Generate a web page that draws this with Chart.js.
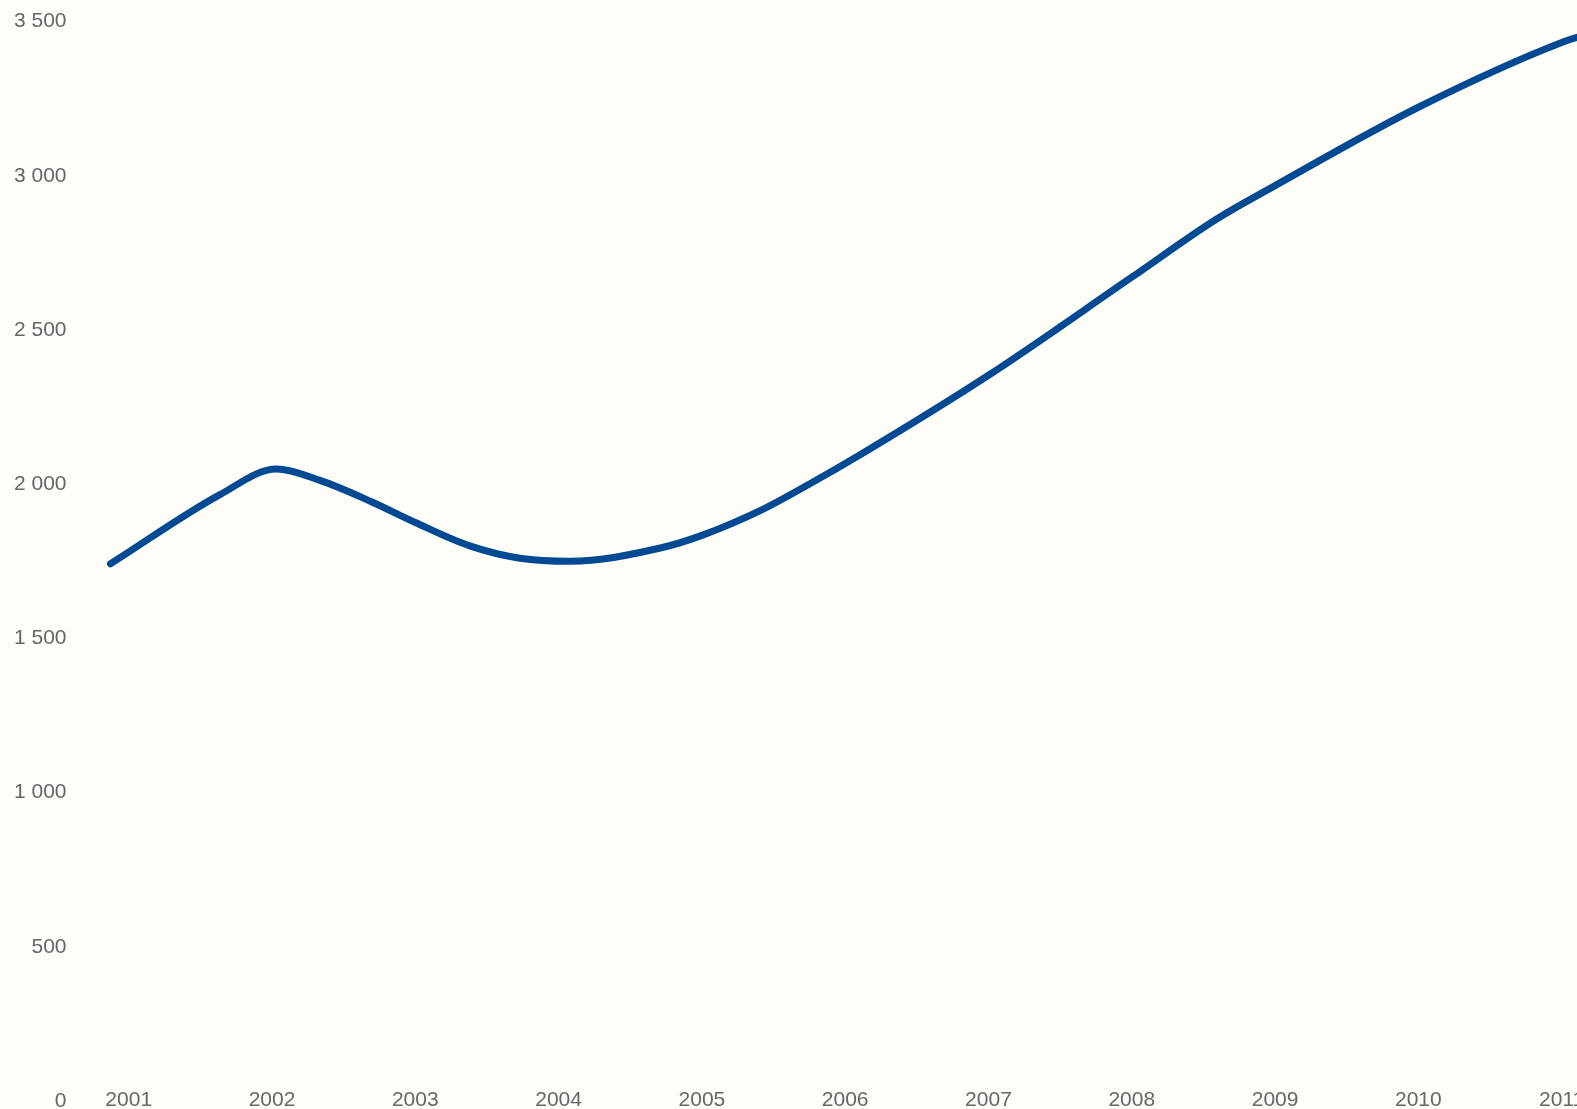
<!DOCTYPE html>
<html>
<head>
<meta charset="utf-8">
<script src="https://cdn.jsdelivr.net/npm/chart.js@4.4.1/dist/chart.umd.min.js"></script>
<style>
    html, body {
        margin: 0;
        padding: 0;
        background: #fffdf8;
        overflow: hidden;
    }
    .chart-wrap {
        position: absolute;
        left: 0;
        top: 0;
        width: 1577px;
        height: 1109px;
    }
</style>
</head>
<body>
<div class="chart-wrap">
    <canvas id="lineChart"></canvas>
</div>
<script>
// ===== DATA =====
const years = [
    2000.873, 2001.64, 2002.03, 2002.33, 2002.69, 2003, 2003.38, 2003.73,
    2004.08, 2004.71, 2005, 2005.41, 2005.76, 2006.11, 2007, 2008, 2008.59,
    2009, 2010, 2011, 2011.2,
];
const values = [
    1742, 1967, 2049, 2013, 1944, 1876, 1800, 1760,
    1750, 1793, 1834, 1915, 2003, 2097, 2353, 2671, 2859,
    2968, 3222, 3432, 3462,
];
const xTicks = [2001, 2002, 2003, 2004, 2005, 2006, 2007, 2008, 2009, 2010, 2011];
const yTicks = [0, 500, 1000, 1500, 2000, 2500, 3000, 3500];

const xMin = 2000.873;
const xMax = 2011.107;
// plot area stops just above 0 so the year labels can sit level with "0"
const yMin = 36;
const yMax = 3500;

function spaced(v) {
    return String(v).replace(/\B(?=(\d{3})+(?!\d))/g, " ");
}

// ===== CHART =====
function initChart() {
    Chart.defaults.font.family = "'Liberation Sans', Arial, sans-serif";
    Chart.defaults.font.size = 21;
    Chart.defaults.color = "#666666";

    const ctx = document.getElementById("lineChart").getContext("2d");

    new Chart(ctx, {
        type: "line",
        data: {
            datasets: [
                {
                    data: years.map((x, i) => ({ x: x, y: values[i] })),
                    borderColor: "#004a93",
                    borderWidth: 7,
                    borderCapStyle: "round",
                    borderJoinStyle: "round",
                    cubicInterpolationMode: "monotone",
                    pointRadius: 0,
                    pointHoverRadius: 0,
                    fill: false,
                    clip: false,
                },
            ],
        },
        options: {
            responsive: true,
            maintainAspectRatio: false,
            animation: false,
            layout: {
                padding: { top: 21.5, left: 0, right: 0, bottom: 0 },
            },
            plugins: {
                legend: { display: false },
                tooltip: { enabled: false },
            },
            scales: {
                x: {
                    type: "linear",
                    min: xMin,
                    max: xMax,
                    bounds: "data",
                    grid: { display: false, drawTicks: false },
                    border: { display: false },
                    ticks: {
                        padding: -2.6,
                        maxRotation: 0,
                        autoSkip: false,
                        callback: (value) => String(value),
                    },
                    afterBuildTicks: (scale) => {
                        scale.ticks = xTicks.map((v) => ({ value: v }));
                    },
                    afterFit: (scale) => {
                        scale.height = 19;
                        scale.paddingLeft = 0;
                        scale.paddingRight = 0;
                    },
                },
                y: {
                    min: yMin,
                    max: yMax,
                    bounds: "data",
                    grid: { display: false, drawTicks: false },
                    border: { display: false },
                    ticks: {
                        padding: 44,
                        autoSkip: false,
                        callback: (value) => spaced(value),
                    },
                    afterBuildTicks: (scale) => {
                        scale.ticks = yTicks.map((v) => ({ value: v }));
                    },
                    afterFit: (scale) => {
                        scale.width = 110.5;
                        scale.paddingTop = 0;
                        scale.paddingBottom = 0;
                    },
                },
            },
        },
    });
}

document.addEventListener("DOMContentLoaded", initChart);
</script>
</body>
</html>
